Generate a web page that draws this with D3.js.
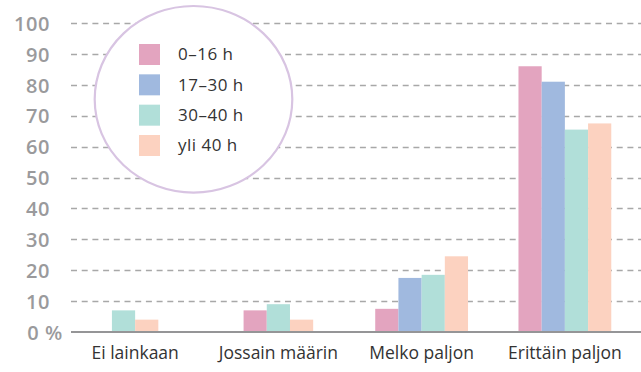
<!DOCTYPE html>
<html><head><meta charset="utf-8">
<script src="https://cdn.jsdelivr.net/npm/d3@7"></script>
<style>body{margin:0;background:#fff}svg{display:block}</style>
</head><body>
<svg id="c" width="641" height="372"></svg>
<script>
const categories = ["Ei lainkaan", "Jossain määrin", "Melko paljon", "Erittäin paljon"];
const seriesNames = ["0–16 h", "17–30 h", "30–40 h", "yli 40 h"];
const s0_16 = [0, 7, 7.5, 86];
const s17_30 = [0, 0, 17.5, 81];
const s30_40 = [7, 9, 18.5, 65.5];
const sYli40 = [4, 4, 24.5, 67.5];
const yTicks = [0, 10, 20, 30, 40, 50, 60, 70, 80, 90, 100];
const colors = ["#e3a4bf", "#a0b9df", "#b1dfd9", "#fcd2c0"];

const series = [s0_16, s17_30, s30_40, sYli40];
const svg = d3.select("#c");
const x = d3.scaleBand().domain(categories).range([63.5, 636.5]).padding(0);
const y = d3.scaleLinear().domain([0, 100]).range([332, 23]);
const barW = 23.2;

const yAxis = d3.axisLeft(y).tickValues(yTicks).tickSize(0)
  .tickFormat(d => d === 0 ? "0 %" : d);
const ga = svg.append("g").attr("transform", "translate(50,0)").call(yAxis);
ga.select(".domain").remove();
ga.selectAll("text").attr("x", 0).attr("dy", "0.36em")
  .attr("fill", "#9a9a9c").style("font-family", "'Open Sans', sans-serif")
  .style("font-size", "20px").style("font-weight", "600").style("letter-spacing", "0.6px");
ga.selectAll(".tick").filter(d => d === 0).select("text").attr("x", 13);

svg.append("g").selectAll("line").data(yTicks.filter(d => d > 0)).join("line")
  .attr("x1", 71).attr("x2", 641).attr("y1", d => Math.round(y(d)) + 0.5).attr("y2", d => Math.round(y(d)) + 0.5)
  .attr("stroke", "#a8a8a8").attr("stroke-width", 1.3).attr("stroke-dasharray", "6,4.7");

const groups = svg.append("g").selectAll("g").data(categories).join("g");
groups.each(function(cat, ci) {
  const items = series.map((s, si) => ({si, v: s[ci]})).filter(d => d.v > 0);
  const cx = x(cat) + x.bandwidth() / 2;
  const inner = d3.scaleBand().domain(items.map(d => d.si))
    .range([cx - barW * items.length / 2, cx + barW * items.length / 2]);
  d3.select(this).selectAll("rect").data(items).join("rect")
    .attr("x", d => inner(d.si)).attr("width", inner.bandwidth())
    .attr("y", d => y(d.v)).attr("height", d => y(0) - y(d.v))
    .attr("fill", d => colors[d.si]);
});

svg.append("line").attr("x1", 71).attr("x2", 641).attr("y1", y(0)).attr("y2", y(0))
  .attr("stroke", "#959597").attr("stroke-width", 2);

const xAxis = d3.axisBottom(x).tickSize(0);
const gx = svg.append("g").attr("transform", "translate(0,344)").call(xAxis);
gx.select(".domain").remove();
gx.selectAll("text").attr("dy", "0.71em").attr("fill", "#333")
  .style("font-family", "'Open Sans', sans-serif").style("font-size", "17.5px");

const lg = svg.append("g");
lg.append("ellipse").attr("cx", 193.5).attr("cy", 99.3).attr("rx", 98.8).attr("ry", 93.3)
  .attr("fill", "#fff").attr("stroke", "#d8c4e2").attr("stroke-width", 2.2);
const ly = d3.scalePoint().domain(seriesNames).range([54.5, 145.5]);
lg.selectAll("rect").data(seriesNames).join("rect")
  .attr("x", 139).attr("y", d => ly(d) - 10.5).attr("width", 21).attr("height", 21)
  .attr("fill", (d, i) => colors[i]);
lg.selectAll("text").data(seriesNames).join("text")
  .attr("x", 178).attr("y", d => ly(d)).attr("dy", "0.35em").text(d => d)
  .attr("fill", "#333").style("font-family", "'Open Sans', sans-serif").style("font-size", "17px")
  .style("letter-spacing", "0.5px");
</script>
</body></html>
